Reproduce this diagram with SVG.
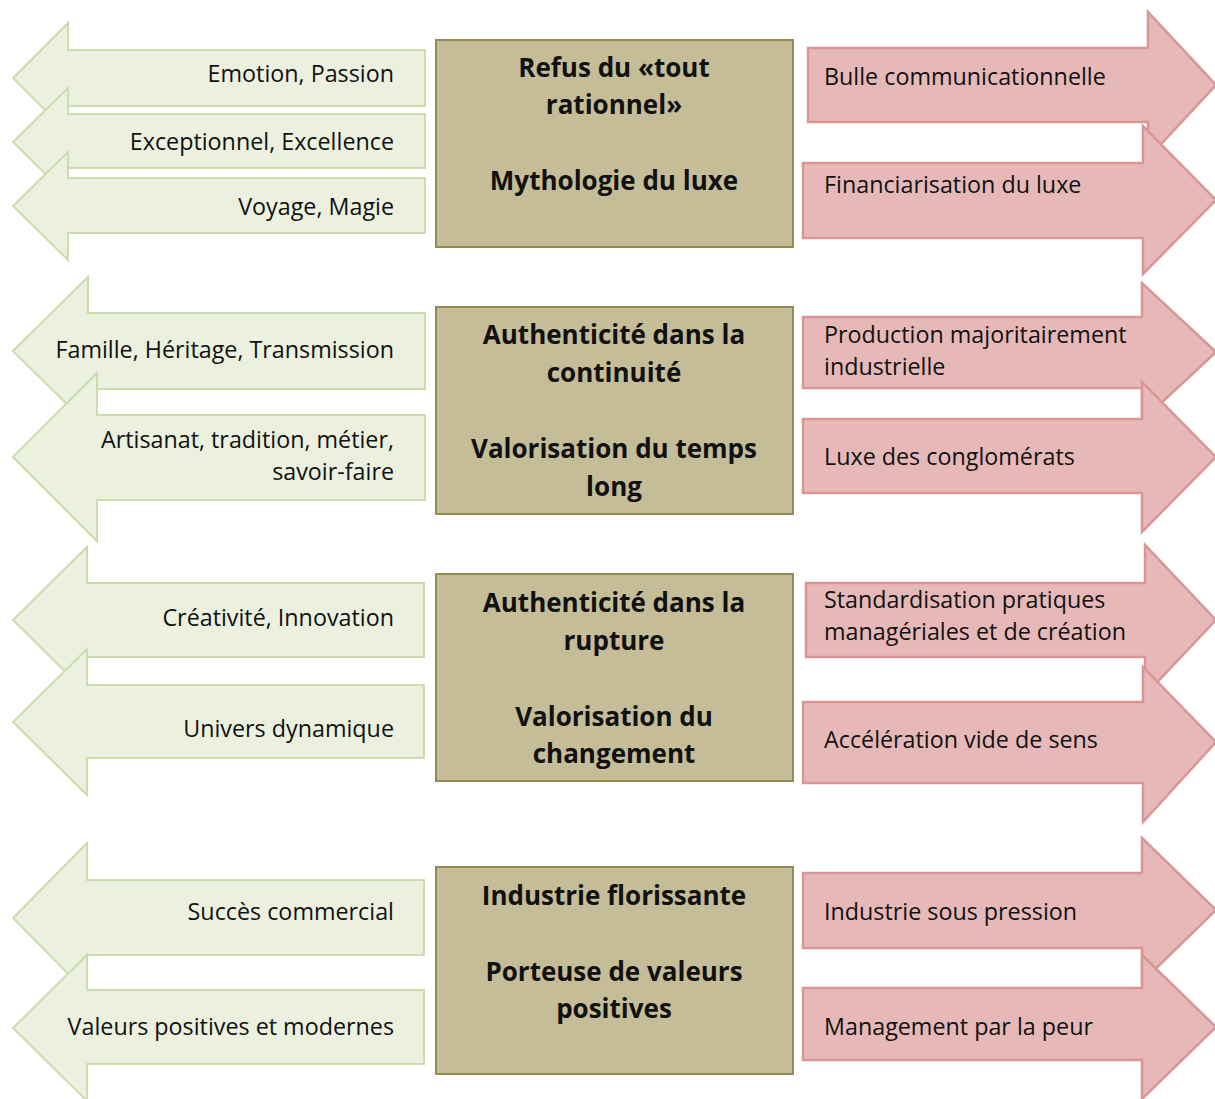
<svg xmlns="http://www.w3.org/2000/svg" width="1215" height="1099" viewBox="0 0 1215 1099">
<style>
.g{fill:#ebf1de;stroke:#cddcad;stroke-width:2;stroke-linejoin:miter}
.r{fill:#e6b9b8;stroke:#d99694;stroke-width:2.5;stroke-linejoin:miter}
.b{fill:#c4bd97;stroke:#948a54;stroke-width:2}
.tl{font-family:"Open Sans","Liberation Sans",sans-serif;font-size:23.3px;fill:#111;text-anchor:end}
.tr{font-family:"Open Sans","Liberation Sans",sans-serif;font-size:23.3px;fill:#111;text-anchor:start}
.tc{font-family:"Open Sans","Liberation Sans",sans-serif;font-size:26px;font-weight:bold;fill:#111;text-anchor:middle}
</style>
<rect width="1215" height="1099" fill="#ffffff"/>
<g id="left-arrows">
<g id="l1"><path class="g" d="M425 50H68V23L13 78L68 133V106H425Z"/><text class="tl" x="394" y="82">Emotion, Passion</text></g>
<g id="l2"><path class="g" d="M425 114H68V88L13 142L68 196V168H425Z"/><text class="tl" x="394" y="150">Exceptionnel, Excellence</text></g>
<g id="l3"><path class="g" d="M425 178H68V152L13 206L68 260V233H425Z"/><text class="tl" x="394" y="215">Voyage, Magie</text></g>
<g id="l4"><path class="g" d="M425 313H88V277L13 351L88 425V389H425Z"/><text class="tl" x="394" y="358">Famille, Héritage, Transmission</text></g>
<g id="l5"><path class="g" d="M425 415H97V373L13 457L97 541V500H425Z"/><text class="tl" x="394" y="448">Artisanat, tradition, métier,</text><text class="tl" x="394" y="480">savoir-faire</text></g>
<g id="l6"><path class="g" d="M424 583H87V547L13 620L87 693V657H424Z"/><text class="tl" x="394" y="626">Créativité, Innovation</text></g>
<g id="l7"><path class="g" d="M424 685H87V649L13 722L87 795V758H424Z"/><text class="tl" x="394" y="737">Univers dynamique</text></g>
<g id="l8"><path class="g" d="M424 880H87V843L13 918L87 993V955H424Z"/><text class="tl" x="394" y="920">Succès commercial</text></g>
<g id="l9"><path class="g" d="M424 990H87V955L13 1028L87 1101V1064H424Z"/><text class="tl" x="394" y="1035">Valeurs positives et modernes</text></g>
</g>
<g id="right-arrows">
<g id="r1"><path class="r" d="M808 48H1148V12L1216 85L1148 158V122H808Z"/><text class="tr" x="824" y="85">Bulle communicationnelle</text></g>
<g id="r2"><path class="r" d="M803 163H1143V126L1216 200L1143 274V238H803Z"/><text class="tr" x="824" y="193">Financiarisation du luxe</text></g>
<g id="r3"><path class="r" d="M803 317H1142V283L1216 352L1142 421V388H803Z"/><text class="tr" x="824" y="343">Production majoritairement</text><text class="tr" x="824" y="375">industrielle</text></g>
<g id="r4"><path class="r" d="M803 419H1142V382L1216 457L1142 532V493H803Z"/><text class="tr" x="824" y="465">Luxe des conglomérats</text></g>
<g id="r5"><path class="r" d="M806 583H1145V545L1216 620L1145 695V657H806Z"/><text class="tr" x="824" y="608">Standardisation pratiques</text><text class="tr" x="824" y="640">managériales et de création</text></g>
<g id="r6"><path class="r" d="M803 702H1143V667L1216 742L1143 822V783H803Z"/><text class="tr" x="824" y="748">Accélération vide de sens</text></g>
<g id="r7"><path class="r" d="M803 873H1142V838L1216 910L1142 982V948H803Z"/><text class="tr" x="824" y="920">Industrie sous pression</text></g>
<g id="r8"><path class="r" d="M803 988H1142V955L1216 1027L1142 1099V1060H803Z"/><text class="tr" x="824" y="1035">Management par la peur</text></g>
</g>
<g id="center-boxes">
<g id="c1"><rect class="b" x="436" y="40" width="357" height="207"/><text class="tc" x="614" y="77">Refus du «tout</text><text class="tc" x="614" y="114">rationnel»</text><text class="tc" x="614" y="190">Mythologie du luxe</text></g>
<g id="c2"><rect class="b" x="436" y="307" width="357" height="207"/><text class="tc" x="614" y="344">Authenticité dans la</text><text class="tc" x="614" y="382">continuité</text><text class="tc" x="614" y="458">Valorisation du temps</text><text class="tc" x="614" y="496">long</text></g>
<g id="c3"><rect class="b" x="436" y="574" width="357" height="207"/><text class="tc" x="614" y="612">Authenticité dans la</text><text class="tc" x="614" y="650">rupture</text><text class="tc" x="614" y="726">Valorisation du</text><text class="tc" x="614" y="763">changement</text></g>
<g id="c4"><rect class="b" x="436" y="867" width="357" height="207"/><text class="tc" x="614" y="905">Industrie florissante</text><text class="tc" x="614" y="981">Porteuse de valeurs</text><text class="tc" x="614" y="1018">positives</text></g>
</g>
</svg>
